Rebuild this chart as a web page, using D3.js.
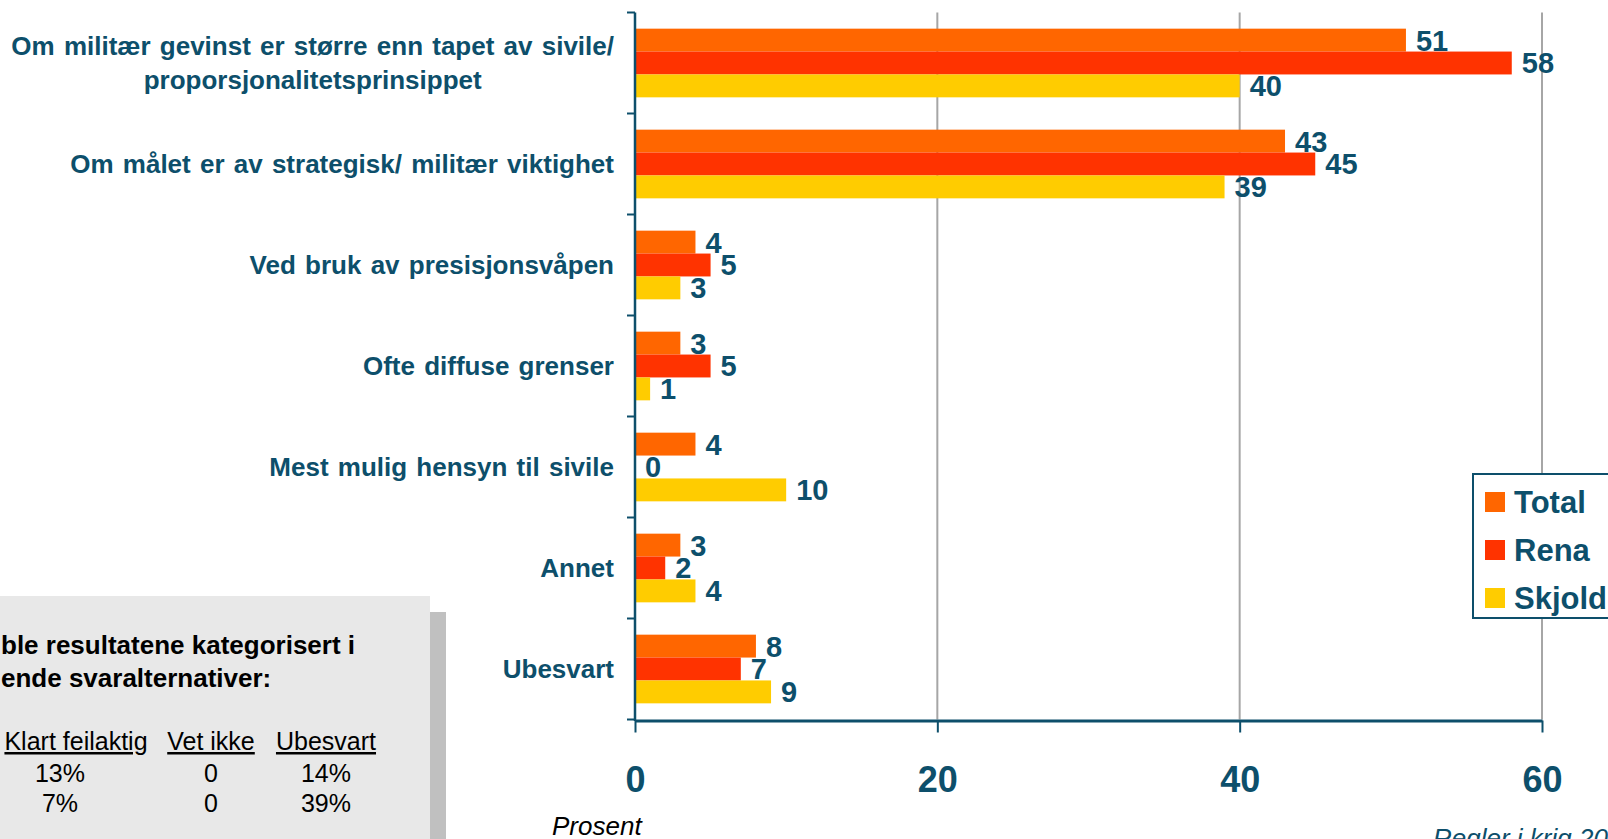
<!DOCTYPE html>
<html lang="no">
<head>
  <meta charset="UTF-8">
  <title>Regler i krig</title>
  <script src="https://d3js.org/d3.v7.min.js"></script>
  <style>
    body { margin: 0; background: #fff; overflow: hidden; }
    svg { display: block; font-family: "Liberation Sans", Arial, sans-serif; }
    .grid line { stroke: #a6a6a6; stroke-width: 2px; }
  </style>
</head>
<body>
  <div id="chart"></div>
  <script>
    // kategorier (linjeskift der originalen bryter)
    const categories = [
      ["Om militær gevinst er større enn tapet av sivile/", "proporsjonalitetsprinsippet"],
      ["Om målet er av strategisk/ militær viktighet"],
      ["Ved bruk av presisjonsvåpen"],
      ["Ofte diffuse grenser"],
      ["Mest mulig hensyn til sivile"],
      ["Annet"],
      ["Ubesvart"]
    ];
    const seriesNames = ["Total", "Rena", "Skjold"];
    const total  = [51, 43, 4, 3, 4, 3, 8];
    const rena   = [58, 45, 5, 5, 0, 2, 7];
    const skjold = [40, 39, 3, 1, 10, 4, 9];
    const xTicks = [0, 20, 40, 60];

    // tabell i boksen nede til venstre
    const boxLines = ["ble resultatene kategorisert i", "ende svaralternativer:"];
    const tableHead = ["Klart feilaktig", "Vet ikke", "Ubesvart"];
    const tableRows = [["13%", "0", "14%"], ["7%", "0", "39%"]];

    const width = 1608, height = 839;
    const teal = "#0d4f6b";
    const colors = ["#ff6600", "#ff3300", "#ffcc00"];
    const values = [total, rena, skjold];

    const svg = d3.select("#chart").append("svg")
      .attr("width", width).attr("height", height);

    const x = d3.scaleLinear().domain([0, 60]).range([635, 1542]);
    const y = d3.scaleBand().domain(d3.range(categories.length))
      .range([12.5, 719.5]).paddingInner(0.32).paddingOuter(0.16);
    const ySub = d3.scaleBand().domain(d3.range(seriesNames.length))
      .range([0, y.bandwidth()]);

    // rutenett
    svg.append("g").attr("class", "grid")
      .selectAll("line").data(xTicks.slice(1)).join("line")
      .attr("x1", d => x(d)).attr("x2", d => x(d))
      .attr("y1", 12.5).attr("y2", 719.5);

    // stolper
    const groups = svg.append("g").selectAll("g")
      .data(categories.map((c, i) => i)).join("g")
      .attr("transform", i => `translate(0,${y(i)})`);

    groups.selectAll("rect")
      .data(i => values.map((v, s) => ({ s, v: v[i] })))
      .join("rect")
      .attr("x", x(0))
      .attr("y", d => ySub(d.s))
      .attr("width", d => x(d.v) - x(0))
      .attr("height", ySub.bandwidth())
      .attr("fill", d => colors[d.s]);

    groups.selectAll("text")
      .data(i => values.map((v, s) => ({ s, v: v[i] })))
      .join("text")
      .attr("x", d => x(d.v) + 10)
      .attr("y", d => ySub(d.s) + ySub.bandwidth() / 2)
      .attr("dy", "0.36em")
      .attr("fill", teal)
      .attr("font-size", 29)
      .attr("font-weight", "bold")
      .text(d => d.v);

    // y-akse med streker mellom kategoriene
    const yAxis = svg.append("g");
    yAxis.append("line")
      .attr("x1", 635).attr("x2", 635).attr("y1", 12.5).attr("y2", 721)
      .attr("stroke", teal).attr("stroke-width", 2.5);
    yAxis.selectAll(".tk")
      .data(d3.range(categories.length + 1)).join("line")
      .attr("x1", 627).attr("x2", 635)
      .attr("y1", i => 12.5 + i * y.step()).attr("y2", i => 12.5 + i * y.step())
      .attr("stroke", teal).attr("stroke-width", 2);

    // kategoritekster
    categories.forEach((lines, i) => {
      const cy = y(i) + y.bandwidth() / 2;
      const g = svg.append("g");
      const t = g.selectAll("text").data(lines).join("text")
        .attr("y", (d, k) => cy + 9.3 + (k - (lines.length - 1) / 2) * 34)
        .attr("fill", teal)
        .attr("font-size", 26)
        .attr("font-weight", "bold")
        .attr("word-spacing", 2)
        .text(d => d);
      if (lines.length > 1) {
        const w = d3.max(t.nodes(), n => n.getComputedTextLength());
        t.attr("x", 614 - w / 2).attr("text-anchor", "middle");
      } else {
        t.attr("x", 614).attr("text-anchor", "end");
      }
    });

    // x-akse
    const xAxis = svg.append("g")
      .attr("transform", "translate(0,720.5)")
      .call(d3.axisBottom(x).tickValues(xTicks).tickSize(12).tickSizeOuter(0));
    xAxis.select(".domain").attr("stroke", teal).attr("stroke-width", 3);
    xAxis.selectAll(".tick line").attr("stroke", teal).attr("stroke-width", 2);
    xAxis.selectAll(".tick text")
      .attr("y", 71).attr("dy", 0)
      .attr("fill", teal)
      .attr("font-size", 36)
      .attr("font-weight", "bold")
      .attr("font-family", "\"Liberation Sans\", Arial, sans-serif");

    svg.append("text")
      .attr("x", 552).attr("y", 835)
      .attr("font-size", 26).attr("font-style", "italic").attr("fill", "#000")
      .text("Prosent");

    svg.append("text")
      .attr("x", 1433).attr("y", 847)
      .attr("font-size", 26).attr("font-style", "italic").attr("fill", teal)
      .text("Regler i krig 20");

    // legende
    const leg = svg.append("g");
    leg.append("rect")
      .attr("x", 1473).attr("y", 474).attr("width", 160).attr("height", 144)
      .attr("fill", "#fff").attr("stroke", teal).attr("stroke-width", 2);
    seriesNames.forEach((name, s) => {
      leg.append("rect")
        .attr("x", 1485).attr("y", 492 + s * 48).attr("width", 20).attr("height", 20)
        .attr("fill", colors[s]);
      leg.append("text")
        .attr("x", 1514).attr("y", 502 + s * 48).attr("dy", "0.36em")
        .attr("font-size", 31).attr("font-weight", "bold").attr("fill", teal)
        .text(name);
    });

    // boks nede til venstre
    const box = svg.append("g");
    box.append("rect").attr("x", 430).attr("y", 612).attr("width", 16).attr("height", 240)
      .attr("fill", "#c0c0c0");
    box.append("rect").attr("x", -10).attr("y", 596).attr("width", 440).attr("height", 260)
      .attr("fill", "#e8e8e8");
    box.selectAll(".bl").data(boxLines).join("text")
      .attr("x", 1).attr("y", (d, k) => 653.5 + k * 33)
      .attr("font-size", 26).attr("font-weight", "bold").attr("fill", "#000")
      .text(d => d);

    const headX = [76, 211, 326];
    const colX = [60, 211, 326];
    box.selectAll(".th").data(tableHead).join("text")
      .attr("x", (d, k) => headX[k]).attr("y", 750)
      .attr("text-anchor", "middle")
      .attr("font-size", 25).attr("fill", "#000")
      .attr("text-decoration", "underline")
      .text(d => d);
    tableRows.forEach((row, r) => {
      box.selectAll(".tr" + r).data(row).join("text")
        .attr("x", (d, k) => colX[k]).attr("y", 781.5 + r * 30)
        .attr("text-anchor", "middle")
        .attr("font-size", 25).attr("fill", "#000")
        .text(d => d);
    });
  </script>
</body>
</html>
